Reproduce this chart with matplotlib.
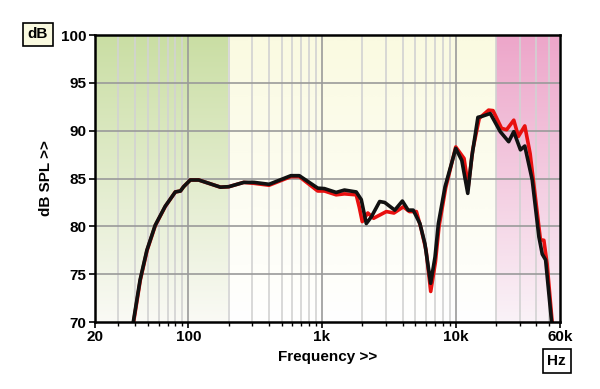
import numpy as np
import matplotlib
matplotlib.use("Agg")
import matplotlib.pyplot as plt
from matplotlib.ticker import FixedLocator, NullFormatter

plt.rcParams['font.family'] = ['Liberation Sans', 'DejaVu Sans']
plt.rcParams['font.weight'] = 'bold'

# measured response, black trace
black_f = [38.8, 43.6, 49, 56.5, 67.2, 80, 87.4, 92.3, 103.6, 119.6, 174, 201, 260, 310, 402,
           585, 676, 929, 1042, 1276, 1472, 1803, 1966, 2144, 2339, 2698, 2945, 3500, 3990,
           4406, 4808, 5395, 5880, 6490, 7000, 7417, 8320, 10000, 11100, 12300, 13200, 14650,
           15700, 18120, 21530, 24890, 27160, 30470, 32840, 37330, 41880, 44360, 46990, 52120]
black_db = [70.0, 74.4, 77.5, 80.1, 82.1, 83.6, 83.7, 84.15, 84.85, 84.85, 84.1, 84.15, 84.6, 84.6, 84.4,
            85.3, 85.3, 84.0, 83.95, 83.55, 83.8, 83.6, 82.8, 80.3, 81.0, 82.6, 82.5, 81.7, 82.65,
            81.7, 81.7, 80.3, 78.2, 74.05, 76.8, 80.3, 84.15, 88.15, 86.9, 83.45, 87.3, 91.4,
            91.5, 91.8, 89.9, 88.85, 89.9, 88.0, 88.4, 84.85, 78.9, 77.1, 76.5, 70.0]

# red trace
red_f = [39.0, 43.8, 49.2, 56.7, 67.4, 80, 87.4, 92.3, 103.6, 119.6, 174, 201, 260, 310, 402,
         585, 676, 929, 1042, 1276, 1472, 1803, 1900, 2000, 2200, 2430, 3030, 3450, 4060,
         4500, 5080, 5500, 6000, 6500, 7050, 7500, 8400, 10000, 11540, 12400, 13400, 15000,
         17600, 19000, 22000, 24000, 27160, 29400, 32840, 36000, 43000, 45600, 48200, 52600]
red_db = [70.0, 74.4, 77.5, 80.1, 82.1, 83.6, 83.7, 84.15, 84.85, 84.85, 84.1, 84.15, 84.6, 84.5, 84.3,
          85.2, 85.2, 83.7, 83.7, 83.3, 83.4, 83.3, 82.0, 80.5, 81.4, 80.85, 81.55, 81.4, 82.05,
          81.55, 81.55, 79.8, 77.5, 73.2, 76.3, 80.0, 84.0, 88.3, 87.1, 84.15, 88.0, 91.3,
          92.15, 92.1, 90.25, 90.1, 91.1, 89.4, 90.5, 87.6, 78.6, 78.55, 76.1, 70.0]

# shaded frequency bands: (start, end, top colour, bottom colour)
bands = [(20, 200, (0.79, 0.87, 0.64), (0.98, 0.98, 0.96)),
         (200, 20000, (0.98, 0.98, 0.88), (1.0, 1.0, 1.0)),
         (20000, 60000, (0.93, 0.65, 0.79), (0.98, 0.95, 0.97))]

fig = plt.figure(figsize=(6, 3.89), dpi=100)
ax = fig.add_axes([0.158, 0.172, 0.775, 0.738])
ax.set_xscale('log')

for f0, f1, top, bot in bands:
    t = np.linspace(0, 1, 200)[:, None]
    grad = np.array(top)[None, :] * (1 - t) + np.array(bot)[None, :] * t
    ax.imshow(grad[:, None, :], extent=(f0, f1, 70, 100), origin='upper', aspect='auto',
              zorder=0, interpolation='bilinear')
ax.set_xlim(20, 60000)
ax.set_ylim(70, 100)

# grid
minor = [m * 10 ** e for e in range(1, 5) for m in range(2, 10)]
minor = [v for v in minor if 20 < v < 60000 and v not in (100, 1000, 10000)]
for v in minor:
    ax.axvline(v, color='#d2d2d2', lw=1.2, zorder=1)
for v in (100, 1000, 10000):
    ax.axvline(v, color='#9a9a9a', lw=1.2, zorder=1)
for v in range(75, 100, 5):
    ax.axhline(v, color='#9a9a9a', lw=1.2, zorder=1)

ax.plot(red_f, red_db, color='#e8100f', lw=2.6, zorder=3, solid_joinstyle='round')
ax.plot(black_f, black_db, color='#111111', lw=2.6, zorder=4, solid_joinstyle='round')

ax.xaxis.set_major_locator(FixedLocator([20, 100, 1000, 10000, 60000]))
ax.set_xticklabels(['20', '100', '1k', '10k', '60k'])
ax.xaxis.set_minor_locator(FixedLocator(minor))
ax.xaxis.set_minor_formatter(NullFormatter())
ax.set_yticks(range(70, 101, 5))
ax.tick_params(axis='both', which='major', direction='out', length=4, width=1.2,
               labelsize=11, pad=2)
ax.tick_params(axis='x', which='minor', direction='out', length=3, width=1)
for lab in ax.get_xticklabels() + ax.get_yticklabels():
    lab.set_fontweight('bold')

for s in ax.spines.values():
    s.set_linewidth(1.8)
    s.set_zorder(5)

ax.set_xlabel('Frequency >>', fontsize=11, fontweight='bold', labelpad=4)
ax.set_ylabel('dB SPL >>', fontsize=11, fontweight='bold', labelpad=6)

fig.text(0.063, 0.912, 'dB', fontsize=11, fontweight='bold', ha='center', va='center',
         bbox=dict(boxstyle='square,pad=0.3', fc='#fafae0', ec='black', lw=1.2))
fig.text(0.928, 0.072, 'Hz', fontsize=11, fontweight='bold', ha='center', va='center',
         bbox=dict(boxstyle='square,pad=0.3', fc='white', ec='black', lw=1.2))

fig.savefig('out.png', dpi=100)
